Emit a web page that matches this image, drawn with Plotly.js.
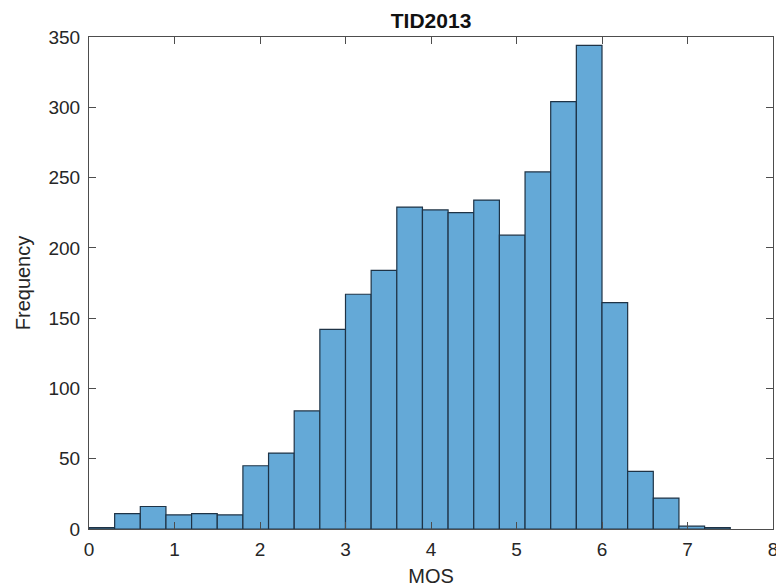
<!DOCTYPE html>
<html>
<head>
<meta charset="utf-8">
<script src="https://cdn.plot.ly/plotly-3.0.1.min.js"></script>
<style>html,body{margin:0;padding:0;background:#fff;}#chart{width:776px;height:587px;}</style>
</head>
<body>
<div id="chart"></div>
<script>
// Histogram of MOS values (TID2013), bin width 0.3 starting at 0
const binStart = 0;
const binWidth = 0.3;
const counts = [1, 11, 16, 10, 11, 10, 45, 54, 84, 142, 167, 184, 229, 227, 225, 234, 209, 254, 304, 344, 161, 41, 22, 2, 1];
const binCenters = counts.map((_, i) => binStart + binWidth * (i + 0.5));

const xTicks = [0, 1, 2, 3, 4, 5, 6, 7, 8];
const yTicks = [0, 50, 100, 150, 200, 250, 300, 350];

const axisColor = '#4d4d4d';
const textColor = '#262626';
const font = 'Liberation Sans, Arial, Helvetica, sans-serif';

const trace = {
  type: 'bar',
  x: binCenters,
  y: counts,
  width: binWidth,
  marker: { color: '#64a9d7', line: { color: '#1e3346', width: 1.2 } },
  hoverinfo: 'x+y'
};

const layout = {
  width: 776, height: 587,
  margin: { l: 89, r: 3, t: 37, b: 58 },
  paper_bgcolor: '#fff', plot_bgcolor: '#fff',
  showlegend: false,
  bargap: 0,
  font: { family: font, color: textColor, size: 19 },
  title: {
    text: '<b>TID2013</b>',
    font: { family: font, size: 21, color: '#111' },
    x: 0.5555, xanchor: 'center',
    y: 0.965, yanchor: 'middle', yref: 'container'
  },
  xaxis: {
    range: [0, 8], tickvals: xTicks, ticktext: xTicks.map(String),
    ticks: 'inside', ticklen: 7, tickwidth: 1, tickcolor: axisColor,
    showline: true, linecolor: axisColor, linewidth: 1, mirror: 'allticks',
    showgrid: false, zeroline: false,
    ticklabeloverflow: 'allow', ticklabelstandoff: 3,
    tickfont: { size: 19, color: textColor },
    title: { text: 'MOS', font: { size: 20, color: textColor }, standoff: 10 }
  },
  yaxis: {
    range: [0, 350], tickvals: yTicks, ticktext: yTicks.map(String),
    ticks: 'inside', ticklen: 7, tickwidth: 1, tickcolor: axisColor,
    showline: true, linecolor: axisColor, linewidth: 1, mirror: 'allticks',
    showgrid: false, zeroline: false,
    ticklabeloverflow: 'allow', ticklabelstandoff: 4,
    tickfont: { size: 19, color: textColor },
    title: { text: 'Frequency', font: { size: 20, color: textColor }, standoff: 12 }
  }
};

Plotly.newPlot('chart', [trace], layout, { displayModeBar: false, staticPlot: true });
</script>
</body>
</html>
